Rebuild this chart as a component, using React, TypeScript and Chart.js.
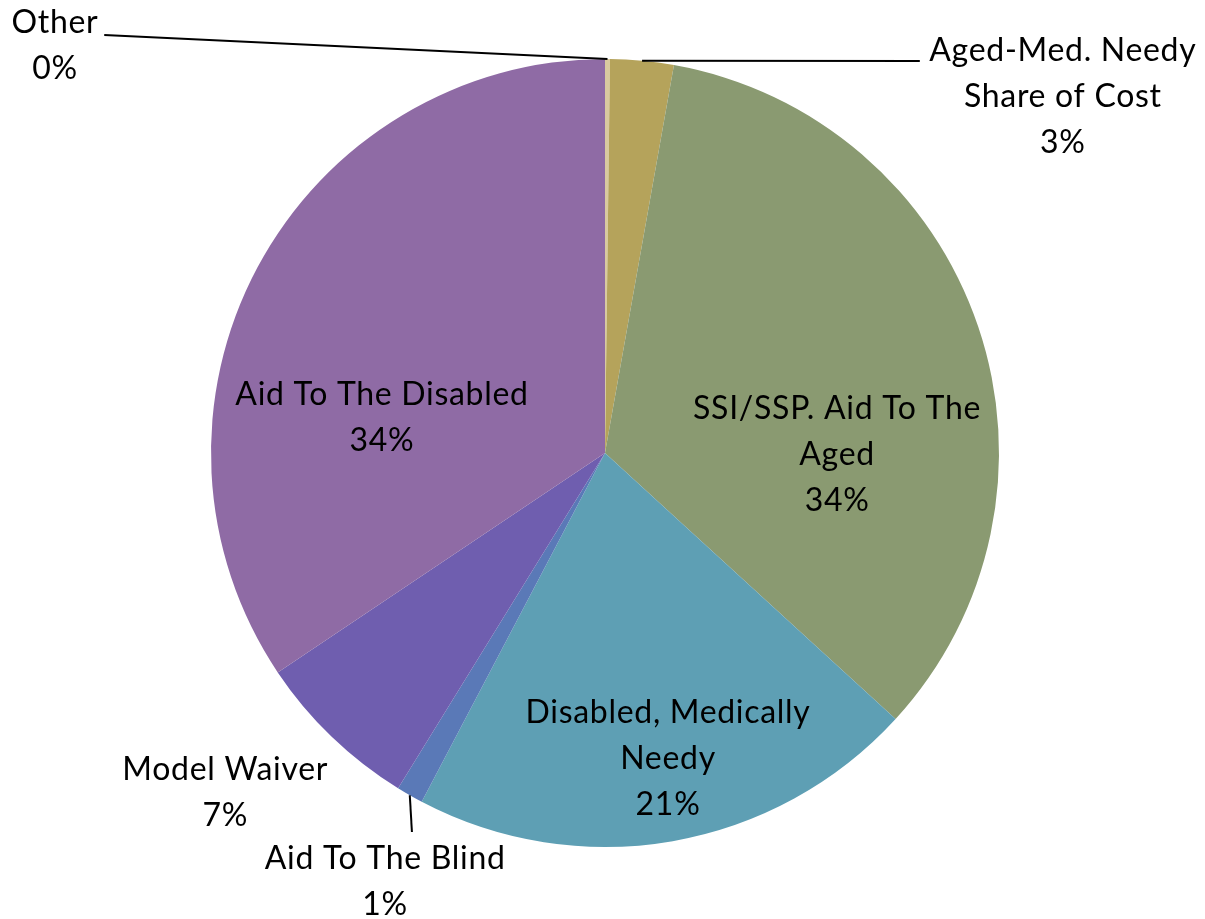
import React, { useEffect, useRef } from "react";
import { Chart, registerables } from "chart.js";

Chart.register(...registerables);

const categories: string[][] = [
  ["Other"],
  ["Aged-Med. Needy", "Share of Cost"],
  ["SSI/SSP. Aid To The", "Aged"],
  ["Disabled, Medically", "Needy"],
  ["Aid To The Blind"],
  ["Model Waiver"],
  ["Aid To The Disabled"],
];
const shares: number[] = [0.2, 2.6, 34.0, 20.9, 1.1, 6.8, 34.4];
const sliceColors: string[] = [
  "#D9C9A0",
  "#B5A35B",
  "#8A9A71",
  "#5E9FB4",
  "#5A79B7",
  "#6F5EAF",
  "#8F6BA5",
];

// label block centers, in radius units relative to pie center
const labelPlacement: [number, number][] = [
  [-1.396, -1.033],
  [1.162, -0.904],
  [0.589, 0.005],
  [0.16, 0.777],
  [-0.558, 1.089],
  [-0.964, 0.863],
  [-0.566, -0.089],
];
// leader line start (radius units), null = no leader
const leaderStart: ([number, number] | null)[] = [
  [-1.271, -1.061],
  [0.799, -0.995],
  null,
  null,
  [-0.49, 0.962],
  null,
  null,
];

const FONT_FAMILY = "Lato, 'Open Sans', sans-serif";
const FONT_SIZE = 32;
const LINE_H = 46;

const labelPlugin = {
  id: "sliceLabels",
  afterDatasetsDraw(chart: any) {
    const meta = chart.getDatasetMeta(0);
    const ctx = chart.ctx as CanvasRenderingContext2D;
    const total = shares.reduce((a, b) => a + b, 0);
    ctx.save();
    meta.data.forEach((arc: any, i: number) => {
      const cx = arc.x;
      const cy = arc.y;
      const r = arc.outerRadius;
      const ls = leaderStart[i];
      if (ls) {
        const mid = (arc.startAngle + arc.endAngle) / 2;
        const ex = cx + Math.cos(mid) * r;
        const ey = cy + Math.sin(mid) * r;
        ctx.beginPath();
        ctx.strokeStyle = "#000000";
        ctx.lineWidth = 2;
        ctx.moveTo(cx + ls[0] * r, cy + ls[1] * r);
        ctx.lineTo(ex, ey);
        ctx.stroke();
      }
      const lines = [...categories[i], Math.round((shares[i] / total) * 100) + "%"];
      const [px, py] = labelPlacement[i];
      const bx = cx + px * r;
      const by = cy + py * r;
      ctx.fillStyle = "#000000";
      ctx.font = `${FONT_SIZE}px ${FONT_FAMILY}`;
      (ctx as any).letterSpacing = "0.7px";
      ctx.textAlign = "center";
      ctx.textBaseline = "middle";
      const n = lines.length;
      lines.forEach((t, k) => {
        ctx.fillText(t, bx, by + (k - (n - 1) / 2) * LINE_H);
      });
    });
    ctx.restore();
  },
};

export default function App() {
  const ref = useRef<HTMLCanvasElement | null>(null);
  useEffect(() => {
    if (!ref.current) return;
    const chart = new Chart(ref.current, {
      type: "pie",
      data: {
        labels: categories.map((c) => c.join(" ")),
        datasets: [
          {
            data: shares,
            backgroundColor: sliceColors,
            borderWidth: 0,
          },
        ],
      },
      options: {
        animation: false,
        responsive: true,
        maintainAspectRatio: false,
        layout: { padding: { left: 211, right: 206, top: 59, bottom: 72 } },
        plugins: {
          legend: { display: false },
          tooltip: { enabled: false },
          title: { display: false },
        },
      },
      plugins: [labelPlugin],
    });
    return () => chart.destroy();
  }, []);
  return (
    <div
      style={{
        position: "fixed",
        left: 0,
        top: 0,
        width: 1205,
        height: 919,
        background: "#ffffff",
      }}
    >
      <canvas ref={ref} />
    </div>
  );
}
